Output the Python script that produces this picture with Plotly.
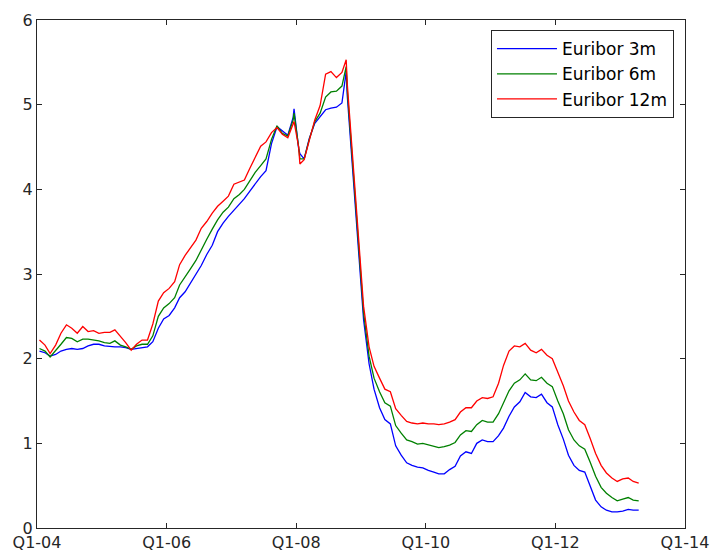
import pandas as pd
import plotly.graph_objects as go

# Monthly (mid-month) Euribor levels, Jan 2004 .. Apr 2013
start_month = "2004-01-01"
n_months = 112

eur3m = [
    2.09, 2.07, 2.03, 2.05, 2.09, 2.11, 2.12, 2.11, 2.12, 2.15, 2.17, 2.17,
    2.15, 2.14, 2.14, 2.14, 2.13, 2.11, 2.12, 2.13, 2.14, 2.20, 2.36, 2.47,
    2.51, 2.60, 2.72, 2.79, 2.89, 2.99, 3.10, 3.23, 3.34, 3.50, 3.60, 3.68,
    3.75, 3.82, 3.89, 3.98, 4.07, 4.15, 4.22, 4.54, 4.74, 4.69, 4.64, 4.85,
    4.48, 4.36, 4.60, 4.78, 4.86, 4.94, 4.96, 4.97, 5.02, 5.11, 4.24, 3.29,
    2.46, 1.94, 1.64, 1.42, 1.28, 1.23, 0.97, 0.86, 0.77, 0.74, 0.72, 0.71,
    0.68, 0.66, 0.64, 0.64, 0.69, 0.73, 0.85, 0.90, 0.88, 1.00, 1.04, 1.02,
    1.02, 1.09, 1.18, 1.32, 1.43, 1.49, 1.60, 1.55, 1.54, 1.58, 1.48, 1.43,
    1.22, 1.05, 0.86, 0.74, 0.68, 0.66, 0.50, 0.33, 0.25, 0.21, 0.19, 0.19,
    0.20, 0.22, 0.21, 0.21,
]
eur6m = [
    2.12, 2.09, 2.02, 2.09, 2.17, 2.25, 2.24, 2.20, 2.23, 2.23, 2.22, 2.21,
    2.19, 2.18, 2.21, 2.16, 2.14, 2.11, 2.15, 2.17, 2.17, 2.27, 2.50, 2.60,
    2.65, 2.72, 2.87, 2.96, 3.06, 3.16, 3.29, 3.41, 3.53, 3.64, 3.73, 3.79,
    3.89, 3.94, 4.00, 4.10, 4.20, 4.28, 4.36, 4.59, 4.75, 4.66, 4.63, 4.82,
    4.50, 4.36, 4.59, 4.80, 4.90, 5.09, 5.15, 5.16, 5.22, 5.18, 4.29, 3.37,
    2.54, 2.03, 1.77, 1.61, 1.48, 1.44, 1.21, 1.12, 1.04, 1.02, 0.99, 1.00,
    0.98, 0.96, 0.95, 0.96, 0.98, 1.01, 1.10, 1.15, 1.14, 1.22, 1.27, 1.25,
    1.25, 1.35, 1.48, 1.62, 1.71, 1.75, 1.82, 1.75, 1.74, 1.78, 1.71, 1.67,
    1.50, 1.35, 1.16, 1.04, 0.97, 0.93, 0.78, 0.61, 0.48, 0.41, 0.36, 0.32,
    0.34, 0.36, 0.33, 0.32,
]
eur12m = [
    2.22, 2.16, 2.06, 2.16, 2.30, 2.40, 2.36, 2.30, 2.38, 2.32, 2.33, 2.30,
    2.31, 2.31, 2.34, 2.27, 2.19, 2.10, 2.17, 2.22, 2.22, 2.41, 2.68, 2.78,
    2.83, 2.91, 3.11, 3.22, 3.31, 3.40, 3.54, 3.62, 3.72, 3.80, 3.86, 3.92,
    4.06, 4.09, 4.11, 4.25, 4.37, 4.51, 4.56, 4.67, 4.73, 4.65, 4.61, 4.79,
    4.50, 4.35, 4.59, 4.82, 4.99, 5.36, 5.39, 5.32, 5.38, 5.25, 4.35, 3.45,
    2.62, 2.14, 1.91, 1.77, 1.64, 1.61, 1.41, 1.33, 1.26, 1.24, 1.23, 1.24,
    1.23, 1.23, 1.22, 1.23, 1.25, 1.28, 1.37, 1.42, 1.42, 1.50, 1.54, 1.53,
    1.55, 1.71, 1.92, 2.09, 2.15, 2.14, 2.18, 2.10, 2.07, 2.11, 2.04, 2.00,
    1.84, 1.68, 1.50, 1.37, 1.27, 1.22, 1.06, 0.88, 0.74, 0.65, 0.59, 0.55,
    0.58, 0.59, 0.55, 0.53,
]

# A few daily extremes visible in the chart
event_dates = ["2007-12-20", "2008-01-22", "2008-10-09"]
event_3m = [4.95, 4.42, 5.39]
event_6m = [4.90, 4.36, 5.45]
event_12m = [4.80, 4.30, 5.53]

tick_dates = ["2004-01-01", "2006-01-01", "2008-01-01", "2010-01-01", "2012-01-01", "2014-01-01"]
tick_labels = ["Q1-04", "Q1-06", "Q1-08", "Q1-10", "Q1-12", "Q1-14"]
y_ticks = [0, 1, 2, 3, 4, 5, 6]

month_dates = pd.date_range(start_month, periods=n_months, freq="MS") + pd.Timedelta(days=14)


def build(monthly, events):
    s = pd.Series(monthly, index=month_dates)
    e = pd.Series(events, index=pd.to_datetime(event_dates))
    return pd.concat([s, e]).sort_index()


series = [
    ("Euribor 3m", build(eur3m, event_3m), "#0000ff"),
    ("Euribor 6m", build(eur6m, event_6m), "#008000"),
    ("Euribor 12m", build(eur12m, event_12m), "#ff0000"),
]

fig = go.Figure()
for name, s, col in series:
    fig.add_trace(go.Scatter(x=s.index, y=s.values, mode="lines", name=name,
                             legendgroup=name,
                             line=dict(color=col, width=1.3)))

font_family = "DejaVu Sans"
fig.update_layout(
    width=710, height=554,
    margin=dict(l=37, r=25, t=20, b=26),
    paper_bgcolor="white", plot_bgcolor="white",
    font=dict(family=font_family, size=16, color="#262626"),
    showlegend=True,
    legend=dict(x=0.983, y=0.98, xanchor="right", yanchor="top",
                bgcolor="white", bordercolor="#262626", borderwidth=1,
                font=dict(family=font_family, size=17, color="#000000"),
                tracegroupgap=5, itemwidth=60, traceorder="normal"),
    xaxis=dict(range=["2004-01-01", "2014-01-01"], tickmode="array",
               tickvals=tick_dates, ticktext=tick_labels,
               showgrid=False, zeroline=False, showline=True, linecolor="#262626",
               linewidth=1, mirror="ticks", ticks="inside", ticklen=5,
               tickcolor="#262626", automargin=False),
    yaxis=dict(range=[0, 6], tickmode="array", tickvals=y_ticks,
               showgrid=False, zeroline=False, showline=True, linecolor="#262626",
               linewidth=1, mirror="ticks", ticks="inside", ticklen=5,
               tickcolor="#262626", automargin=False),
)

fig.write_html("out.html")
